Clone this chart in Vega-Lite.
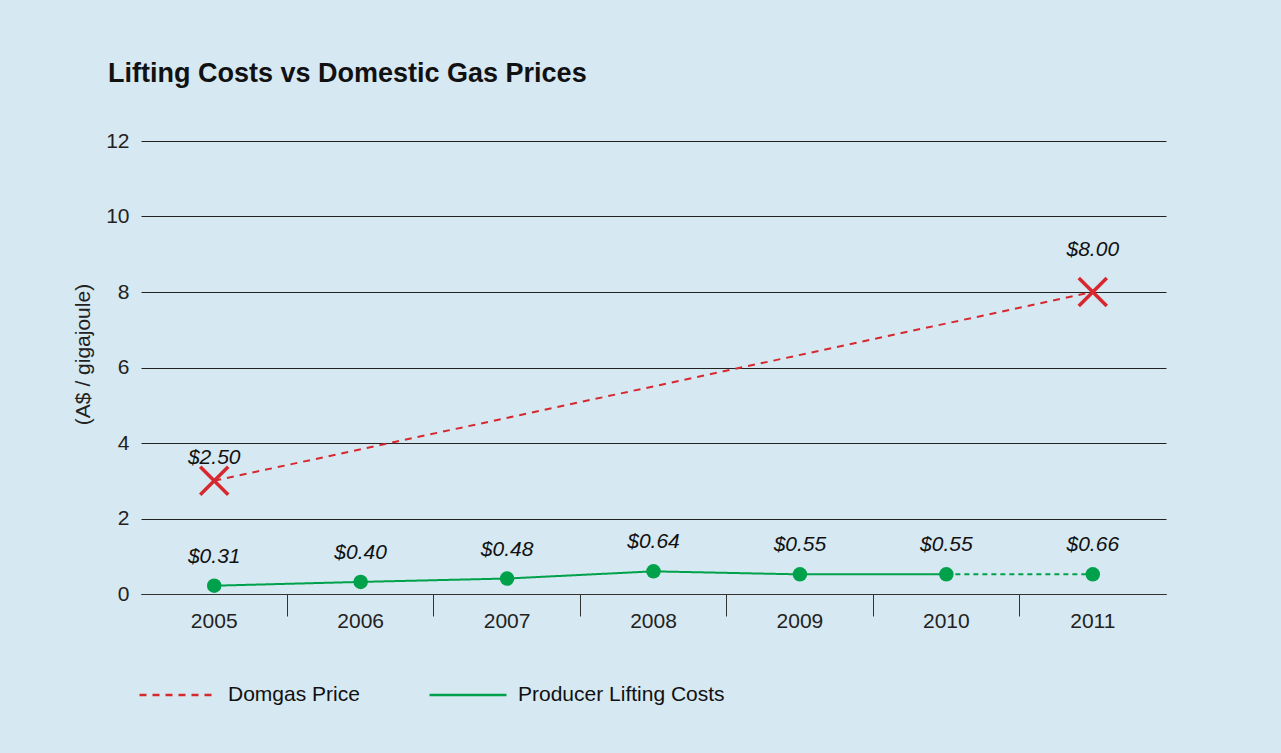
{
  "$schema": "https://vega.github.io/schema/vega-lite/v6.json",
  "width": 1025,
  "height": 453,
  "autosize": {"type": "none"},
  "padding": {"left": 141, "top": 141, "right": 115, "bottom": 159},
  "background": "#d6e8f1",
  "title": {
    "text": "Lifting Costs vs Domestic Gas Prices",
    "anchor": "start",
    "frame": "group",
    "dx": -33,
    "offset": 42,
    "fontSize": 27,
    "fontWeight": "bold",
    "font": "Liberation Sans",
    "color": "#111111"
  },
  "config": {
    "view": {"stroke": null},
    "font": "Liberation Sans",
    "text": {"font": "Liberation Sans"}
  },
  "data": {
    "values": [
      {"year": 2005, "series": "Domgas Price", "value": 3.0, "label": "$2.50", "labelValue": 2.5},
      {"year": 2011, "series": "Domgas Price", "value": 8.0, "label": "$8.00", "labelValue": 8.0},
      {"year": 2005, "series": "Producer Lifting Costs", "value": 0.22, "label": "$0.31", "labelValue": 0.31},
      {"year": 2006, "series": "Producer Lifting Costs", "value": 0.32, "label": "$0.40", "labelValue": 0.40},
      {"year": 2007, "series": "Producer Lifting Costs", "value": 0.41, "label": "$0.48", "labelValue": 0.48},
      {"year": 2008, "series": "Producer Lifting Costs", "value": 0.60, "label": "$0.64", "labelValue": 0.64},
      {"year": 2009, "series": "Producer Lifting Costs", "value": 0.52, "label": "$0.55", "labelValue": 0.55},
      {"year": 2010, "series": "Producer Lifting Costs", "value": 0.52, "label": "$0.55", "labelValue": 0.55},
      {"year": 2011, "series": "Producer Lifting Costs", "value": 0.52, "label": "$0.66", "labelValue": 0.66}
    ]
  },
  "encoding": {
    "x": {
      "field": "year",
      "type": "ordinal",
      "scale": {"type": "band", "paddingInner": 0, "paddingOuter": 0},
      "axis": {
        "title": null,
        "labelAngle": 0,
        "labelFontSize": 21,
        "labelColor": "#222222",
        "labelFont": "Liberation Sans",
        "bandPosition": 0,
        "tickSize": 22,
        "tickWidth": 1,
        "tickColor": {"condition": {"test": "datum.value == 2005", "value": "transparent"}, "value": "#333333"},
        "domainColor": "#333333",
        "domainWidth": 1,
        "labelPadding": -6
      }
    },
    "y": {
      "field": "value",
      "type": "quantitative",
      "title": "(A$ / gigajoule)",
      "scale": {"domain": [0, 12], "nice": false},
      "axis": {
        "values": [0, 2, 4, 6, 8, 10, 12],
        "grid": true,
        "gridColor": "#222222",
        "gridWidth": 1,
        "gridOpacity": 1,
        "domain": false,
        "ticks": false,
        "labelPadding": 12,
        "labelFontSize": 21,
        "labelColor": "#222222",
        "labelFont": "Liberation Sans",
        "titleFontSize": 21,
        "titleFontWeight": "normal",
        "titleFont": "Liberation Sans",
        "titleColor": "#222222",
        "titlePadding": 12,
        "titleY": 213
      }
    }
  },
  "layer": [
    {
      "transform": [{"filter": "datum.series == 'Domgas Price' || datum.year <= 2010"}],
      "mark": {"type": "line", "strokeWidth": 2},
      "encoding": {
        "color": {
          "field": "series",
          "type": "nominal",
          "scale": {"domain": ["Domgas Price", "Producer Lifting Costs"], "range": ["#d7282f", "#00a14b"]},
          "legend": {
            "title": null,
            "orient": "none",
            "legendX": -3,
            "legendY": 514,
            "direction": "horizontal",
            "symbolType": "stroke",
            "symbolSize": 5929,
            "symbolStrokeWidth": 2.5,
            "labelFontSize": 21,
            "labelFont": "Liberation Sans",
            "labelColor": "#111111",
            "labelOffset": 10,
            "labelLimit": 400,
            "columnPadding": 64
          }
        },
        "strokeDash": {
          "field": "series",
          "type": "nominal",
          "scale": {"domain": ["Domgas Price", "Producer Lifting Costs"], "range": [[7, 6], [1, 0]]},
          "legend": {
            "title": null,
            "orient": "none",
            "legendX": -3,
            "legendY": 514,
            "direction": "horizontal",
            "symbolType": "stroke",
            "symbolSize": 5929,
            "symbolStrokeWidth": 2.5,
            "labelFontSize": 21,
            "labelFont": "Liberation Sans",
            "labelColor": "#111111",
            "labelOffset": 10,
            "labelLimit": 400,
            "columnPadding": 64
          }
        }
      }
    },
    {
      "transform": [{"filter": "datum.series == 'Producer Lifting Costs' && datum.year >= 2010"}],
      "mark": {"type": "line", "strokeWidth": 2, "color": "#00a14b", "strokeDash": [5, 4]},
      "encoding": {}
    },
    {
      "transform": [{"filter": "datum.series == 'Producer Lifting Costs'"}],
      "mark": {"type": "circle", "size": 210, "color": "#00a14b", "opacity": 1},
      "encoding": {}
    },
    {
      "transform": [{"filter": "datum.series == 'Domgas Price'"}],
      "mark": {"type": "point", "shape": "M-1,-1L1,1M1,-1L-1,1", "filled": false, "stroke": "#d7282f", "strokeWidth": 3.5, "size": 784, "opacity": 1},
      "encoding": {}
    },
    {
      "transform": [{"filter": "datum.series == 'Producer Lifting Costs'"}],
      "mark": {"type": "text", "dy": -29, "fontSize": 21, "fontStyle": "italic", "color": "#111111", "font": "Liberation Sans"},
      "encoding": {"text": {"field": "label"}}
    },
    {
      "transform": [{"filter": "datum.series == 'Domgas Price'"}],
      "mark": {"type": "text", "dy": -42, "fontSize": 21, "fontStyle": "italic", "color": "#111111", "font": "Liberation Sans"},
      "encoding": {
        "y": {"field": "labelValue", "type": "quantitative", "title": "(A$ / gigajoule)"},
        "text": {"field": "label"}
      }
    }
  ]
}
